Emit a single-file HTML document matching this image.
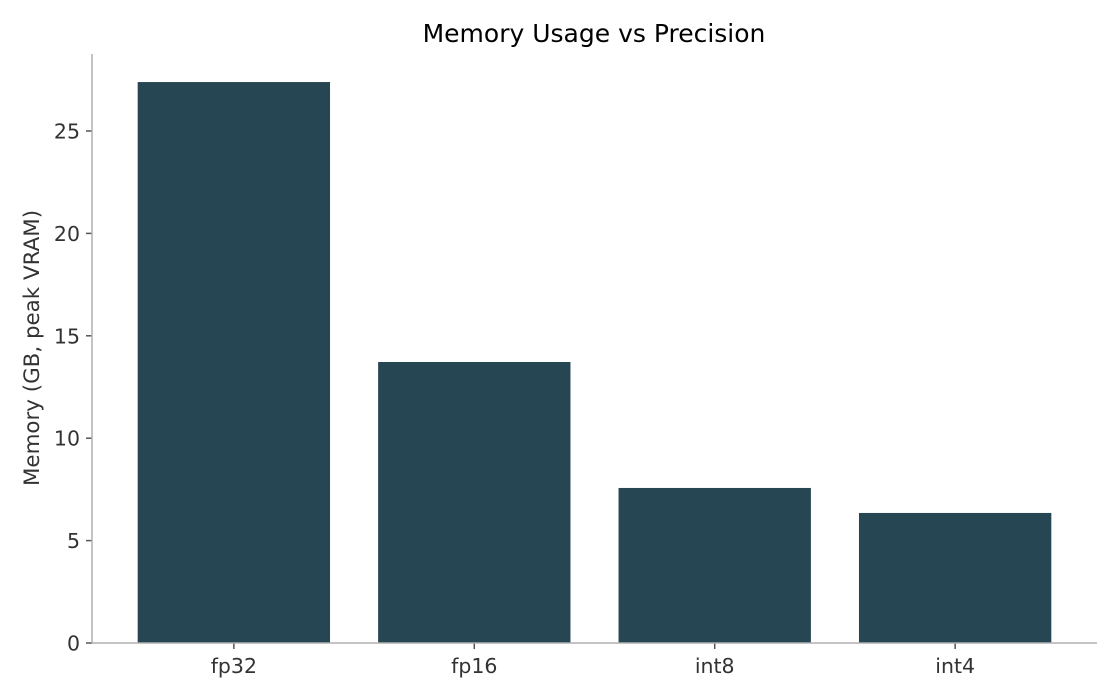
<!DOCTYPE html>
<html><head><meta charset="utf-8">
<style>
html,body{margin:0;padding:0;background:#fff;}
svg{display:block;font-family:"DejaVu Sans","Liberation Sans",sans-serif;}
</style></head>
<body>
<svg id="chart" width="1120" height="700" viewBox="0 0 1120 700">
<text x="594" y="42" text-anchor="middle" font-size="25" fill="#000">Memory Usage vs Precision</text>
<text transform="translate(39,348) rotate(-90)" text-anchor="middle" font-size="21.4" fill="#333">Memory (GB, peak VRAM)</text>
<g id="bars"></g>
<g id="yticks"></g>
<g id="xticks"></g>
<line x1="92" y1="54" x2="92" y2="643" stroke="#b0b0b0" stroke-width="1.5"/>
<line x1="92" y1="643" x2="1097" y2="643" stroke="#b0b0b0" stroke-width="1.5"/>
</svg>
<script>
const categories = ["fp32","fp16","int8","int4"];
const memoryValues = [27.39, 13.72, 7.57, 6.35];
const yTickValues = [0,5,10,15,20,25];

const NS="http://www.w3.org/2000/svg";
const plotLeft=92, plotRight=1097, plotTop=54, plotBottom=643;
const yMax=Math.max(...memoryValues)*1.05;
function yScale(v){return plotBottom-(v/yMax)*(plotBottom-plotTop);}
const pad=0.59;
const step=(plotRight-plotLeft)/(categories.length-1+2*pad);
function xScale(i){return plotLeft+(i+pad)*step;}
const barW=step*0.8;

const bars=document.getElementById('bars');
memoryValues.forEach((v,i)=>{
  const r=document.createElementNS(NS,'rect');
  r.setAttribute('x',xScale(i)-barW/2);
  r.setAttribute('y',yScale(v));
  r.setAttribute('width',barW);
  r.setAttribute('height',plotBottom-yScale(v));
  r.setAttribute('fill','#264653');
  
  
  bars.appendChild(r);
});
const yt=document.getElementById('yticks');
yTickValues.forEach(t=>{
  const y=yScale(t);
  const l=document.createElementNS(NS,'line');
  l.setAttribute('x1',plotLeft-6);l.setAttribute('x2',plotLeft);
  l.setAttribute('y1',y);l.setAttribute('y2',y);
  l.setAttribute('stroke','#555');l.setAttribute('stroke-width','1.5');
  
  
  yt.appendChild(l);
  const tx=document.createElementNS(NS,'text');
  tx.setAttribute('x',plotLeft-12);tx.setAttribute('y',y+7.5);
  tx.setAttribute('text-anchor','end');tx.setAttribute('font-size','20.5');tx.setAttribute('fill','#333');
  tx.textContent=t;
  
  
  yt.appendChild(tx);
});
const xt=document.getElementById('xticks');
categories.forEach((c,i)=>{
  const x=xScale(i);
  const l=document.createElementNS(NS,'line');
  l.setAttribute('x1',x);l.setAttribute('x2',x);
  l.setAttribute('y1',plotBottom);l.setAttribute('y2',plotBottom+6);
  l.setAttribute('stroke','#555');l.setAttribute('stroke-width','1.5');
  
  
  xt.appendChild(l);
  const tx=document.createElementNS(NS,'text');
  tx.setAttribute('x',x);tx.setAttribute('y',plotBottom+30);
  tx.setAttribute('text-anchor','middle');tx.setAttribute('font-size','20.5');tx.setAttribute('fill','#333');
  tx.textContent=c;
  
  
  xt.appendChild(tx);
});
</script>
</body></html>
